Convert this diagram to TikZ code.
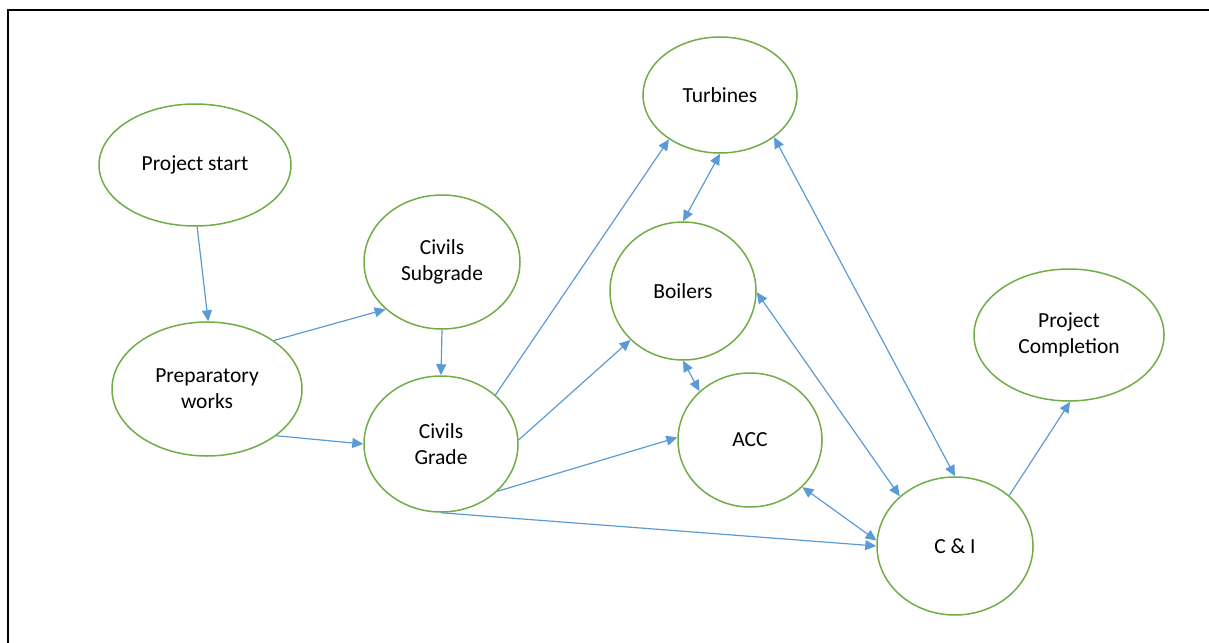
\documentclass[tikz,border=0pt]{standalone}
\usepackage{fontspec}
\setmainfont{Carlito}
\usetikzlibrary{shapes.geometric,arrows.meta}
\definecolor{nodegreen}{HTML}{70AD47}
\definecolor{linkblue}{HTML}{5B9BD5}
\begin{document}
\begin{tikzpicture}[x=1pt,y=-1pt,
  task/.style={ellipse,draw=nodegreen,line width=1.5pt,inner sep=0pt,align=center,
    font=\fontsize{21.5}{26}\selectfont},
  link/.style={draw=linkblue,line width=1.2pt,-{Triangle[length=11pt,width=10pt]}},
  both/.style={link,{Triangle[length=11pt,width=10pt]}-{Triangle[length=11pt,width=10pt]}}]
\useasboundingbox (0,0) rectangle (1209,642);
% frame
\draw[line width=2pt,line cap=rect] (1212,10) -- (8,10) -- (8,645);

% activities
\node[task,minimum width=192pt,minimum height=122pt] (ps)  at (195,165)  {Project start};
\node[task,minimum width=190pt,minimum height=134pt] (pw)  at (207,389)  {Preparatory\\works};
\node[task,minimum width=156pt,minimum height=134pt] (sub) at (442,262)  {Civils\\Subgrade};
\node[task,minimum width=154pt,minimum height=136pt] (gr)  at (441,444)  {Civils\\Grade};
\node[task,minimum width=154pt,minimum height=116pt] (tu)  at (720,95)   {Turbines};
\node[task,minimum width=146pt,minimum height=138pt] (bo)  at (683,291)  {Boilers};
\node[task,minimum width=144pt,minimum height=134pt] (acc) at (750,440)  {ACC};
\node[task,minimum width=156pt,minimum height=138pt] (ci)  at (955,546)  {C \& I};
\node[task,minimum width=190pt,minimum height=132pt] (pc)  at (1069,335) {Project\\Completion};

% dependencies
\draw[link] (ps.272) -- (pw.89);
\draw[link] (pw.36)  -- (sub.220);
\draw[link] (pw.326) -- (gr.180);
\draw[link] (sub.270) -- (gr.90);
\draw[link] (gr.42)  -- (tu.221);
\draw[link] (gr.3)   -- (bo.223);
\draw[link] (gr.320) -- (acc.178);
\draw[link] (gr.270) -- (ci.180);
\draw[both] (tu.270) -- (bo.90);
\draw[both] (bo.270) -- (acc.136);
\draw[both] (tu.322) -- (ci.90);
\draw[both] (bo.359) -- (ci.138);
\draw[both] (acc.318) -- (ci.176);
\draw[link] (ci.43)  -- (pc.271);
\end{tikzpicture}
\end{document}
